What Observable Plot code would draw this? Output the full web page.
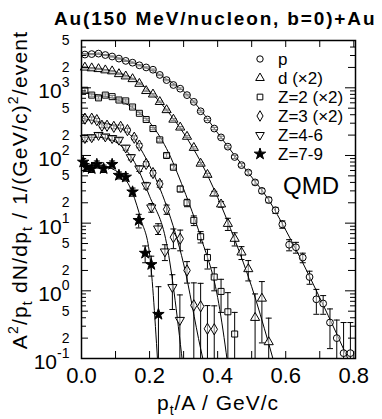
<!DOCTYPE html>
<html><head><meta charset="utf-8">
<script src="https://cdn.jsdelivr.net/npm/d3@7"></script>
<script src="https://cdn.jsdelivr.net/npm/@observablehq/plot@0.6"></script>
<style>
body{margin:0;background:#fff;font-family:"Liberation Sans",Arial,Helvetica,sans-serif;}
#wrap{position:relative;width:382px;height:419px;overflow:hidden;}
#title{height:32px;position:relative;}
#title span{position:absolute;left:54px;top:9px;font-size:19px;font-weight:bold;letter-spacing:1.85px;white-space:nowrap;line-height:1;}
svg{display:block;}
</style></head><body>
<div id="wrap">
<div id="title"><span>Au(150 MeV/nucleon, b=0)+Au</span></div>
<div id="chart"></div>
</div>
<script>
// ---------- data ----------
const xP = [0.01,0.03,0.05,0.07,0.09,0.11,0.13,0.15,0.17,0.19,0.21,0.23,0.25,0.27,0.29,0.31,0.33,0.35,0.37,0.39,0.41,0.43,0.45,0.47,0.49,0.51,0.53,0.55,0.57,0.59,0.61,0.63,0.65,0.67,0.69,0.71,0.73,0.75,0.77,0.79];
const vP = [3100,3150,3200,3050,2900,2700,2500,2350,2150,2000,1850,1550,1300,1100,970,780,620,450,340,250,185,135,95,72,56,40,30,22,15.5,9.6,4.8,4.4,3.1,1.6,0.75,0.65,0.34,0.2,0.12,0.12];
const eP = [60,60,60,60,55,55,50,50,45,40,40,35,30,28,25,22,18,15,12,10,8,6,5,4,3.5,3,2.5,2,1.6,1.2,0.9,0.8,0.5,0.35,0.3,0.2,0.2,0.17,0.22,0.22];

const xD = [0.01,0.03,0.05,0.07,0.09,0.11,0.13,0.15,0.17,0.19,0.21,0.23,0.25,0.27,0.29,0.31,0.33,0.35,0.37,0.39,0.41,0.43,0.45,0.47,0.49,0.51,0.53,0.55];
const vD = [2000,1950,1900,1820,1760,1600,1480,1350,1150,900,800,620,470,340,260,190,130,76,52,27.5,19,9.8,5.9,3.7,2.1,0.4,0.77,0.175];
const eD = [40,40,40,38,36,34,32,30,26,22,20,16,13,10,8,6,5,3,2.5,2,1.8,2,1.3,0.8,0.7,0.5,0.6,0.22];

const xZ2 = [0.01,0.03,0.05,0.07,0.09,0.11,0.13,0.15,0.17,0.19,0.21,0.23,0.25,0.27,0.29,0.31,0.33,0.35,0.37,0.39,0.41,0.43,0.45];
const vZ2 = [920,780,710,780,740,660,640,520,420,340,250,170,100,67,32,20,11,6.3,3.1,1.6,0.98,0.49,0.23];
const eZ2 = [60,30,28,30,28,25,24,20,16,14,10,8,6,4,3,2.5,1.8,1.2,1.0,0.6,0.5,0.45,0.25];

const xZ3 = [0.01,0.03,0.045,0.06,0.075,0.095,0.115,0.135,0.155,0.17,0.19,0.21,0.23,0.25,0.27,0.29,0.31,0.33,0.35,0.37,0.39];
const vZ3 = [350,350,333,275,275,265,265,237,183,140,75,55,38,16,6.2,5.9,2.0,0.61,0.59,0.275,0.27];
const eZ3 = [25,20,20,18,18,17,17,15,12,10,6,5,4,2.5,2,2,0.7,0.7,0.7,0.33,0.33];

const xZ46 = [0.01,0.03,0.05,0.07,0.09,0.11,0.13,0.145,0.17,0.19,0.205,0.225,0.245,0.267,0.289];
const vZ46 = [180,185,200,190,180,170,130,94,64,36,17,8.3,3.8,1.13,0.37];
const eZ46 = [20,15,15,14,13,12,10,8,6,4,2.5,1.5,1.0,0.6,0.5];

const xZ79 = [0.005,0.015,0.03,0.045,0.065,0.09,0.11,0.13,0.15,0.168,0.187,0.205,0.226];
const vZ79 = [80,67,64,74,64,74,51,48,29,11,3.6,2.45,0.45];
const eZ79 = [10,9,8,9,8,9,6,6,4,2.5,1.0,0.8,0.7];

// QMD model curves
const mxP = [0,0.05,0.1,0.15,0.2,0.25,0.3,0.35,0.4,0.45,0.5,0.55,0.6,0.65,0.7,0.75,0.8];
const mvP = [3200,3130,2820,2370,1860,1350,890,470,215,100,48,22,7.9,2.6,0.79,0.23,0.063];
const mxD = [0,0.05,0.1,0.15,0.2,0.25,0.3,0.35,0.4,0.45,0.5,0.55,0.6];
const mvD = [2000,1930,1720,1380,890,470,214,81,24,5.75,1.15,0.166,0.02];
const mxZ2 = [0,0.05,0.1,0.15,0.2,0.25,0.3,0.35,0.4,0.45];
const mvZ2 = [850,780,680,510,310,126,32,6.3,0.8,0.0125];
const mxZ3 = [0,0.05,0.1,0.15,0.2,0.25,0.3,0.35,0.4];
const mvZ3 = [355,316,270,186,71,17.8,2.5,0.14,0.0126];
const mxZ46 = [0,0.05,0.1,0.15,0.2,0.25,0.3];
const mvZ46 = [186,186,158,89,25,5.0,0.063];
const mxZ79 = [0,0.05,0.1,0.15,0.175,0.2,0.225];
const mvZ79 = [72,71,60,28,11.2,3.5,0.07];

const seriesNames = ["p","d (×2)","Z=2 (×2)","Z=3 (×2)","Z=4-6","Z=7-9"];
const xTickLabels = [0,0.2,0.4,0.6,0.8];
const xTicks = [0.1,0.2,0.3,0.4,0.5,0.6,0.7,0.8];
const yLabelTicks = [0.1,0.2,0.5,1,2,5,10,20,50,100,200,500,1000,2000,5000];
const yDecades = [0.1,1,10,100,1000];
const yMid = [0.2,0.5,2,5,20,50,200,500,2000];
const yMinor = [0.3,0.4,0.6,0.7,0.8,0.9,3,4,6,7,8,9,30,40,60,70,80,90,300,400,600,700,800,900,3000,4000];

// ---------- symbols ----------
const invTriangle = {draw(ctx, size){
  const y = -Math.sqrt(size / (Math.sqrt(3) * 3));
  ctx.moveTo(0, -y * 2); ctx.lineTo(Math.sqrt(3) * y, y); ctx.lineTo(-Math.sqrt(3) * y, y); ctx.closePath();
}};
const capSym = {draw(ctx, size){ const w = 3; ctx.moveTo(-w,0); ctx.lineTo(w,0); }};
const symbols = [d3.symbolCircle, d3.symbolTriangle, d3.symbolSquare, d3.symbolDiamond, invTriangle, d3.symbolStar];

const pts = [[xP,vP,eP],[xD,vD,eD],[xZ2,vZ2,eZ2],[xZ3,vZ3,eZ3],[xZ46,vZ46,eZ46],[xZ79,vZ79,eZ79]];
const models = [[mxP,mvP],[mxD,mvD],[mxZ2,mvZ2],[mxZ3,mvZ3],[mxZ46,mvZ46],[mxZ79,mvZ79]];

const rows = pts.map(([xs,vs,es],k) => xs.map((x,i)=>({x, v:vs[i], hi:vs[i]+es[i], lo: vs[i]-es[i] > 0 ? vs[i]-es[i] : 0.01, k})));
const allRows = rows.flat();
const modelRows = models.map(([xs,vs],k)=>xs.map((x,i)=>({x,v:vs[i],k})));

const fmtY = d => {
  const e = Math.round(Math.log10(d));
  if (Math.abs(d - Math.pow(10,e)) < 1e-9) return "10^" + e;
  return String(Math.round(d / Math.pow(10, Math.floor(Math.log10(d) + 1e-9))));
};

// ---------- layout ----------
const W = 382, H = 387, mL = 81, mR = 27, mT = 8, mB = 61;
const pW = W - mL - mR, pH = H - mT - mB;

const marks = [];
modelRows.forEach(r => marks.push(Plot.line(r, {x:"x", y:"v", curve:"monotone-x", stroke:"black", strokeWidth:1, clip:true})));
marks.push(Plot.ruleX(allRows, {x:"x", y1:"lo", y2:"hi", stroke:"black", strokeWidth:1, clip:true}));
marks.push(Plot.dot(allRows, {x:"x", y:"hi", symbol:capSym, r:2, stroke:"black", strokeWidth:1, clip:true}));
marks.push(Plot.dot(allRows.filter(d=>d.lo>0.1), {x:"x", y:"lo", symbol:capSym, r:2, stroke:"black", strokeWidth:1, clip:true}));
rows.forEach((r,k) => {
  const filled = k === 5;
  marks.push(Plot.dot(r, {x:"x", y:"v", symbol: symbols[k], r: filled ? 3.6 : 3.4,
    fill: filled ? "black" : "white", fillOpacity: filled ? 1 : 0.5, stroke:"black", strokeWidth:1}));
});
// ticks (inward)
marks.push(Plot.ruleY(yDecades, {insetRight: pW - 10, strokeWidth:1}));
marks.push(Plot.ruleY(yMid, {insetRight: pW - 7, strokeWidth:1}));
marks.push(Plot.ruleY(yMinor, {insetRight: pW - 5, strokeWidth:1}));
marks.push(Plot.ruleY(yDecades, {insetLeft: pW - 10, strokeWidth:1}));
marks.push(Plot.ruleY(yMid, {insetLeft: pW - 7, strokeWidth:1}));
marks.push(Plot.ruleY(yMinor, {insetLeft: pW - 5, strokeWidth:1}));
marks.push(Plot.ruleX(xTicks, {insetTop: pH - 7, strokeWidth:1}));
marks.push(Plot.ruleX(xTicks, {insetBottom: pH - 7, strokeWidth:1}));
marks.push(Plot.frame({stroke:"black", strokeWidth:1.5}));
marks.push(Plot.axisX(xTickLabels, {anchor:"bottom", tickSize:0, tickPadding:9, tickFormat: d=>d.toFixed(1), fontSize:22, label:null}));
// y tick labels as text marks positioned by the y scale
marks.push(Plot.text(yLabelTicks, {y: d=>d, text: fmtY, frameAnchor:"left", dx:-12, textAnchor:"end", fontSize:14, fill:"black"}));

const chart = Plot.plot({
  width: W, height: H, marginLeft: mL, marginRight: mR, marginTop: mT, marginBottom: mB,
  x: {domain:[0,0.805]},
  y: {type:"log", domain:[0.1,5000], axis:null},
  style: {fontFamily:'"Liberation Sans",Arial,Helvetica,sans-serif', background:"white", color:"black"},
  marks
});
document.getElementById("chart").appendChild(chart);

const svg = d3.select(chart);
// superscript decade labels
svg.selectAll('g[aria-label="text"] text').each(function(){
  const t = this.textContent;
  if (t.startsWith("10^")) {
    const e = t.slice(3);
    this.textContent = "";
    const s = d3.select(this);
    s.append("tspan").attr("font-size",21).attr("dy",6).text("10");
    s.append("tspan").attr("font-size",14).attr("dy",-11).text(e);
  }
});

// axis titles
const yl = svg.append("text").attr("transform",`translate(27,${190-32}) rotate(-90)`).attr("text-anchor","middle")
  .attr("font-size",21).attr("letter-spacing",1.2).attr("fill","black");
yl.append("tspan").text("A");
yl.append("tspan").attr("font-size",14).attr("dy",-9).text("2");
yl.append("tspan").attr("dy",9).text("/p");
yl.append("tspan").attr("font-size",14).attr("dy",5).text("t");
yl.append("tspan").attr("dy",-5).text(" dN/dp");
yl.append("tspan").attr("font-size",14).attr("dy",5).text("t");
yl.append("tspan").attr("dy",-5).text(" / 1/(GeV/c)");
yl.append("tspan").attr("font-size",14).attr("dy",-9).text("2");
yl.append("tspan").attr("dy",9).text("/event");

const xl = svg.append("text").attr("x",218).attr("y",378).attr("text-anchor","middle")
  .attr("font-size",21).attr("letter-spacing",1).attr("fill","black");
xl.append("tspan").text("p");
xl.append("tspan").attr("font-size",14).attr("dy",5).text("t");
xl.append("tspan").attr("dy",-5).text("/A / GeV/c");

// legend
const lg = svg.append("g").attr("text-anchor","start");
seriesNames.forEach((name,k) => {
  const cy = 27 + k*19;
  const filled = k === 5;
  const sz = filled ? Math.PI*3.6*3.6 : Math.PI*3.2*3.2;
  lg.append("path").attr("transform",`translate(260,${cy})`).attr("d", d3.symbol(symbols[k], sz)())
    .attr("fill", filled ? "black" : "white").attr("stroke","black").attr("stroke-width",1);
  lg.append("text").attr("x",278).attr("y",cy+6).attr("font-size",17).attr("fill","black").text(name);
});
svg.append("text").attr("x",283).attr("y",162).attr("text-anchor","start").attr("font-size",24).attr("fill","black").text("QMD");
</script>
</body></html>
